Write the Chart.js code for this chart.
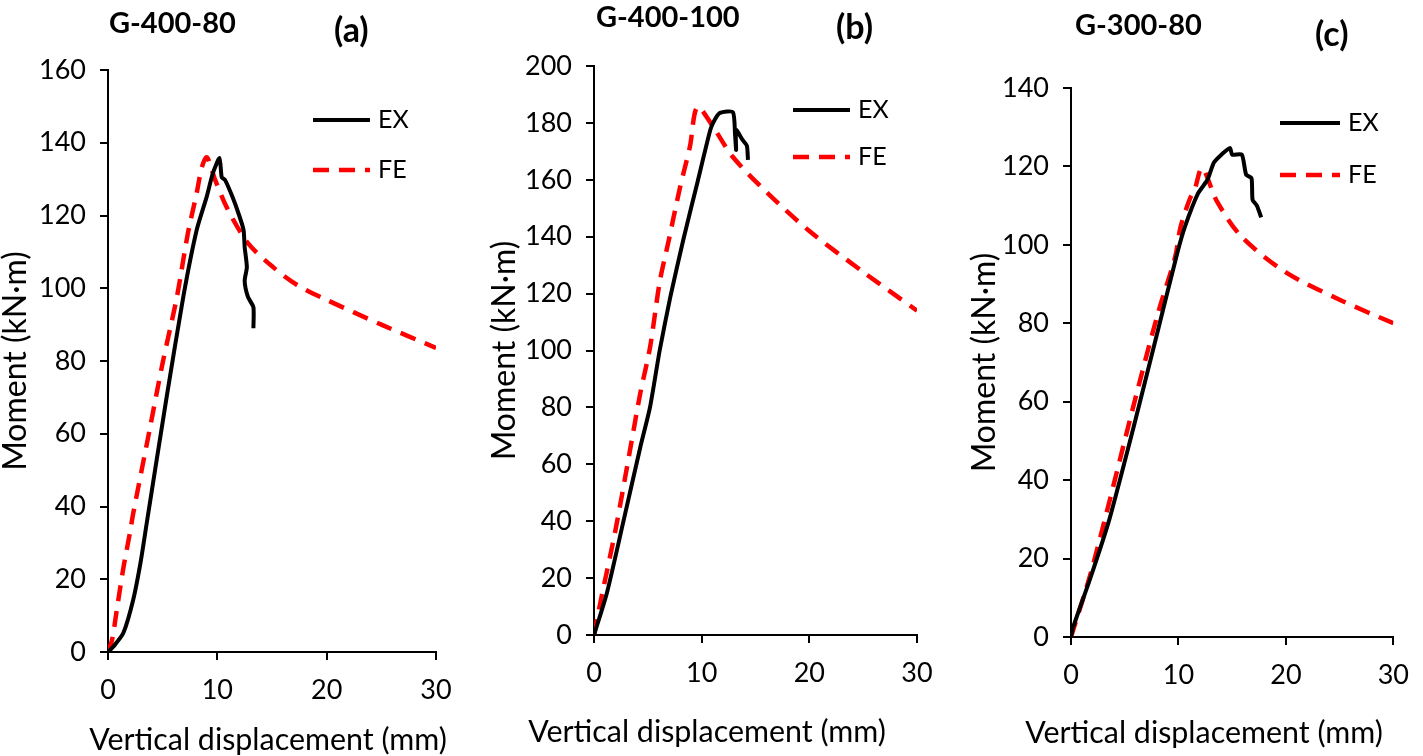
<!DOCTYPE html>
<html>
<head>
<meta charset="utf-8">
<script src="https://cdn.jsdelivr.net/npm/chart.js@4.4.1/dist/chart.umd.min.js"></script>
<style>
  body { margin: 0; background: #fff; }
  .wrap { position: relative; width: 1423px; height: 756px; overflow: hidden; }
  canvas { position: absolute; top: 0; }
</style>
</head>
<body>
<div class="wrap">
  <canvas id="chartA" width="475" height="756" style="left:0px"></canvas>
  <canvas id="chartB" width="470" height="756" style="left:480px"></canvas>
  <canvas id="chartC" width="463" height="756" style="left:960px"></canvas>
</div>
<script>
// === Axis ticks ===
const xTicks = [0, 10, 20, 30];
const yTicksA = [0, 20, 40, 60, 80, 100, 120, 140, 160];
const yTicksB = [0, 20, 40, 60, 80, 100, 120, 140, 160, 180, 200];
const yTicksC = [0, 20, 40, 60, 80, 100, 120, 140];

// === Series labels ===
const seriesNames = ["EX", "FE"];
const xTitle = "Vertical displacement (mm)";
const yTitle = "Moment (kN·m)";

// === (a) G-400-80 ===
const exDispA = [0, 0.5, 1.4, 2.3, 3.0, 3.54, 5.37, 6.89, 8.11, 9.03, 9.6, 10.2, 10.4, 10.7, 11.4, 12.0, 12.4, 12.5, 12.7, 12.5, 12.8, 13.3, 13.3];
const exMomA  = [0, 1.5, 5.2, 14.3, 25, 35.4, 70.2, 97.7, 116, 125.2, 131.7, 135.8, 130.5, 129.8, 125, 120, 116, 111.3, 105.8, 102, 97.6, 94.8, 89];
const feDispA = [0, 0.37, 0.8, 1.4, 2.0, 2.3, 3.8, 5.0, 6.3, 7.3, 8.1, 8.6, 9.05, 9.8, 10.9, 12.8, 15.1, 17.3, 20, 25, 30];
const feMomA  = [0, 3.3, 11.5, 23, 32.7, 38, 61, 79.5, 97.6, 115, 126, 133.4, 136, 129.8, 122, 112.4, 105.8, 100.9, 96.8, 90, 83.6];

// === (b) G-400-100 ===
const exDispB = [0, 1.2, 2.7, 4.3, 5.2, 6.1, 7.1, 8.3, 9.6, 10.8, 11.2, 11.7, 12.9, 13.1, 13.2, 13.2, 13.8, 14.2, 14.3];
const exMomB  = [0, 14.8, 39.4, 66, 80, 100, 119, 139, 159, 177.5, 181, 183.5, 183.8, 176, 170.5, 177.5, 174, 172, 167];
const feDispB = [0, 0.7, 2.0, 3.3, 4.3, 5.2, 6.1, 6.9, 8.0, 8.9, 9.6, 11.0, 12.9, 16.1, 20, 25, 30];
const feMomB  = [0, 13.4, 37, 64, 85, 101, 124, 138, 157.5, 171.5, 185.6, 179, 168, 155.4, 142, 127.6, 114];

// === (c) G-300-80 ===
const exDispC = [0, 0.2, 1.8, 3.55, 6.0, 8.1, 9.9, 10.6, 11.8, 12.7, 13.3, 14.0, 14.8, 15.0, 15.9, 16.3, 16.8, 16.9, 17.3, 17.7];
const exMomC  = [0, 2.5, 15, 29.8, 55.4, 78.3, 98, 104.6, 113, 116.6, 121, 123, 124.7, 123, 123, 117.9, 117, 111.5, 110, 107];
const feDispC = [0, 2.0, 6.1, 8.1, 9.7, 10.2, 11.1, 11.5, 12.2, 13.6, 15.9, 20, 25, 30];
const feMomC  = [0, 17.9, 62, 82.6, 97, 104.6, 112, 114, 119.6, 111, 102, 93, 86, 80];

const FONT = "Lato, 'Open Sans', sans-serif";

// === Panel title, x-axis title and legend drawn on top of each chart ===
const panelDecor = {
  id: "panelDecor",
  afterDraw(chart, args, opts) {
    const ctx = chart.ctx;
    const area = chart.chartArea;
    ctx.save();
    ctx.fillStyle = "#000";
    ctx.textBaseline = "middle";
    ctx.font = "bold 29px " + FONT;
    ctx.fillText(opts.name, opts.nameX, opts.nameY);
    ctx.font = "bold 34px " + FONT;
    ctx.fillText(opts.tag, opts.tagX, opts.tagY);

    // x-axis title, sized to the original's width (wider than the plot)
    ctx.font = "33px " + FONT;
    const w = ctx.measureText(xTitle).width;
    ctx.font = (33 * 358 / w).toFixed(1) + "px " + FONT;
    ctx.textAlign = "center";
    ctx.fillText(xTitle, opts.xtX, opts.xtY);
    ctx.textAlign = "left";

    // legend
    ctx.font = "25px " + FONT;
    chart.data.datasets.forEach((ds, i) => {
      const y = area.top + opts.legY[i];
      const x0 = area.left + opts.legX;
      ctx.beginPath();
      ctx.strokeStyle = ds.borderColor;
      ctx.lineWidth = ds.borderWidth;
      ctx.setLineDash(ds.borderDash || []);
      ctx.moveTo(x0, y);
      ctx.lineTo(x0 + opts.legLen, y);
      ctx.stroke();
      ctx.setLineDash([]);
      ctx.fillText(ds.label, x0 + opts.legLen + 8, y);
    });
    ctx.restore();
  },
};

function makePanel(id, p) {
  const ctx = document.getElementById(id).getContext("2d");
  const pts = (xs, ys) => xs.map((d, i) => ({ x: d, y: ys[i] }));
  return new Chart(ctx, {
    type: "line",
    data: {
      datasets: [
        {
          label: seriesNames[0],
          data: pts(p.exX, p.exY),
          borderColor: "#000000",
          borderWidth: 4,
          pointRadius: 0,
          tension: 0.2,
        },
        {
          label: seriesNames[1],
          data: pts(p.feX, p.feY),
          borderColor: "#ff0000",
          borderWidth: 4.5,
          borderDash: [16, 10],
          pointRadius: 0,
          tension: 0.3,
        },
      ],
    },
    options: {
      responsive: false,
      animation: false,
      devicePixelRatio: 1,
      layout: { padding: { top: p.top, right: p.right, left: 0, bottom: 0 } },
      scales: {
        x: {
          type: "linear",
          min: 0,
          max: 30,
          afterBuildTicks: (s) => { s.ticks = xTicks.map((v) => ({ value: v })); },
          afterFit: (s) => { s.height = p.xH; },
          ticks: { color: "#000", font: { family: FONT, size: 27 }, padding: 14, maxRotation: 0 },
          grid: { drawOnChartArea: false, drawTicks: true, tickLength: 8, color: "#000", lineWidth: 2 },
          border: { color: "#000", width: 2 },
          title: { display: false },
        },
        y: {
          type: "linear",
          min: 0,
          max: p.yTicks[p.yTicks.length - 1],
          afterBuildTicks: (s) => { s.ticks = p.yTicks.map((v) => ({ value: v })); },
          afterFit: (s) => { s.width = p.yW; },
          ticks: { color: "#000", font: { family: FONT, size: 27 }, padding: 14 },
          grid: { drawOnChartArea: false, drawTicks: true, tickLength: 8, color: "#000", lineWidth: 2 },
          border: { color: "#000", width: 2 },
          title: {
            display: true,
            text: yTitle,
            color: "#000",
            font: { family: FONT, size: 32, lineHeight: 1 },
            padding: { top: p.yTitlePad, bottom: 0 },
          },
        },
      },
      plugins: {
        legend: { display: false },
        tooltip: { enabled: false },
        panelDecor: p.decor,
      },
    },
    plugins: [panelDecor],
  });
}

makePanel("chartA", {
  exX: exDispA, exY: exMomA, feX: feDispA, feY: feMomA, yTicks: yTicksA,
  top: 70, right: 39, yW: 108, xH: 104, yTitlePad: 0,
  decor: { name: "G-400-80", nameX: 109, nameY: 24, tag: "(a)", tagX: 334, tagY: 31,
           xtX: 268, xtY: 740, legX: 205, legY: [50, 100], legLen: 57 },
});

makePanel("chartB", {
  exX: exDispB, exY: exMomB, feX: feDispB, feY: feMomB, yTicks: yTicksB,
  top: 66, right: 33, yW: 114, xH: 121, yTitlePad: 9,
  decor: { name: "G-400-100", nameX: 116, nameY: 18, tag: "(b)", tagX: 356, tagY: 28,
           xtX: 227, xtY: 732, legX: 199, legY: [44, 91], legLen: 57 },
});

makePanel("chartC", {
  exX: exDispC, exY: exMomC, feX: feDispC, feY: feMomC, yTicks: yTicksC,
  top: 88, right: 23, yW: 111, xH: 119, yTitlePad: 9,
  decor: { name: "G-300-80", nameX: 115, nameY: 26, tag: "(c)", tagX: 355, tagY: 35,
           xtX: 244, xtY: 733, legX: 209, legY: [35, 87], legLen: 60 },
});
</script>
</body>
</html>
